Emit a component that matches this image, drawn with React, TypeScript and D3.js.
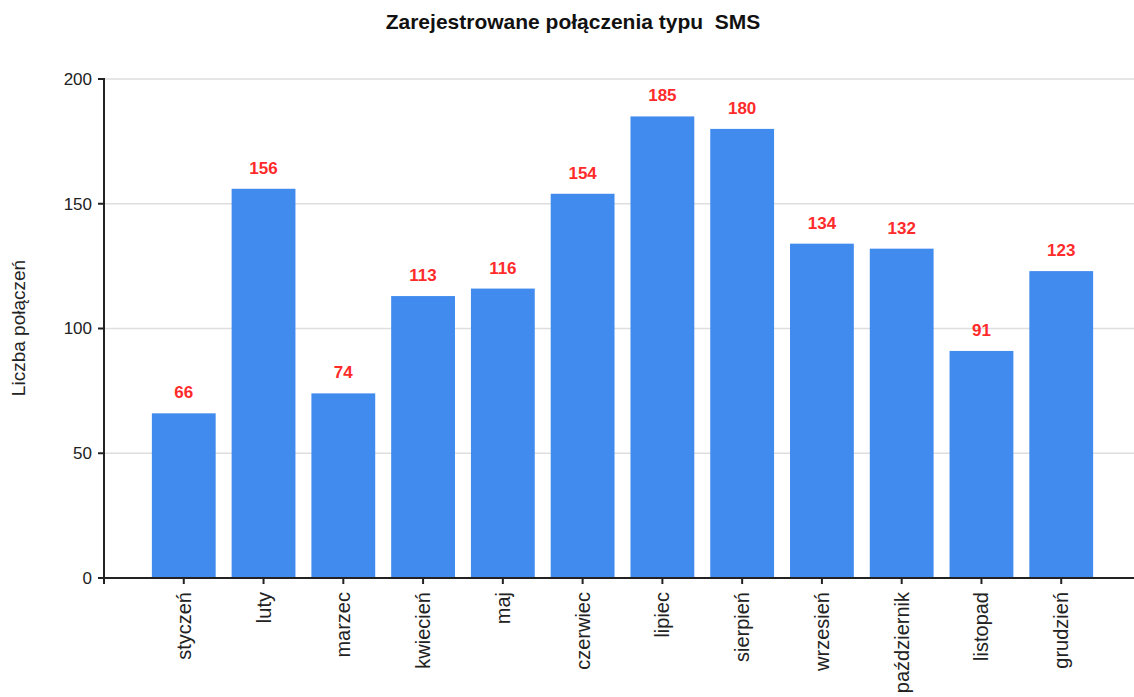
import React from 'react';
import { scaleBand, scaleLinear } from 'd3';

const months = ['styczeń', 'luty', 'marzec', 'kwiecień', 'maj', 'czerwiec', 'lipiec', 'sierpień', 'wrzesień', 'październik', 'listopad', 'grudzień'];
const smsCounts = [66, 156, 74, 113, 116, 154, 185, 180, 134, 132, 91, 123];
const yTicks = [0, 50, 100, 150, 200];

const FONT = '"Liberation Sans", Arial, sans-serif';

export default function App() {
    const width = 1134;
    const height = 697;
    const margin = { top: 79, left: 104, bottom: 119 };
    const plotBottom = height - margin.bottom;

    const xScale = scaleBand<string>()
        .domain(months)
        .range([margin.left, 1141])
        .paddingInner(0.2)
        .paddingOuter(0.6);

    const yScale = scaleLinear()
        .domain([0, 200])
        .range([plotBottom, margin.top]);

    return (
        <svg
            width={width}
            height={height}
            style={{ position: 'absolute', left: 0, top: 0, fontFamily: FONT }}
        >
            {/* title (double space before SMS as in the original) */}
            <text x={573} y={29} textAnchor="middle" fontSize="21" fontWeight="bold" fill="#111" style={{ whiteSpace: 'pre' }}>
                {'Zarejestrowane połączenia typu  SMS'}
            </text>

            {/* grid */}
            {yTicks.map(t => (
                <line key={'g' + t} x1={margin.left} x2={width} y1={yScale(t)} y2={yScale(t)} stroke="#dedede" strokeWidth="1.5" />
            ))}

            {/* bars */}
            {smsCounts.map((v, i) => (
                <rect
                    key={months[i]}
                    x={xScale(months[i])}
                    y={yScale(v)}
                    width={xScale.bandwidth()}
                    height={plotBottom - yScale(v)}
                    fill="#418bef"
                />
            ))}

            {/* value labels */}
            {smsCounts.map((v, i) => (
                <text
                    key={'v' + i}
                    x={(xScale(months[i]) ?? 0) + xScale.bandwidth() / 2}
                    y={yScale(v) - 15}
                    textAnchor="middle"
                    fontSize="17"
                    fontWeight="bold"
                    fill="#ff2b2b"
                >
                    {v}
                </text>
            ))}

            {/* y axis */}
            <path d={`M${margin.left - 6},${margin.top}H${margin.left}V${plotBottom}H${margin.left - 6}`} fill="none" stroke="#222" strokeWidth="2" />
            {yTicks.map(t => (
                <g key={'y' + t} transform={`translate(${margin.left},${yScale(t)})`}>
                    <line x1={-6} x2={0} stroke="#222" strokeWidth="2" />
                    <text x={-12} dy="0.35em" textAnchor="end" fontSize="17" fill="#222">{t}</text>
                </g>
            ))}
            <text
                x={18}
                y={328}
                textAnchor="middle"
                fontSize="19"
                fill="#222"
                transform={`rotate(-90, 18, 328)`}
                dy="0.35em"
            >
                Liczba połączeń
            </text>

            {/* x axis */}
            <path d={`M${margin.left},${plotBottom + 6}V${plotBottom}H${width + 10}`} fill="none" stroke="#222" strokeWidth="2" />
            {months.map(m => {
                const cx = (xScale(m) ?? 0) + xScale.bandwidth() / 2;
                return (
                    <g key={'x' + m} transform={`translate(${cx},${plotBottom})`}>
                        <line y1={0} y2={6} stroke="#222" strokeWidth="2" />
                        <text
                            transform="rotate(-90)"
                            x={-14}
                            dy="0.35em"
                            textAnchor="end"
                            fontSize="20"
                            fill="#222"
                        >
                            {m}
                        </text>
                    </g>
                );
            })}
        </svg>
    );
}
